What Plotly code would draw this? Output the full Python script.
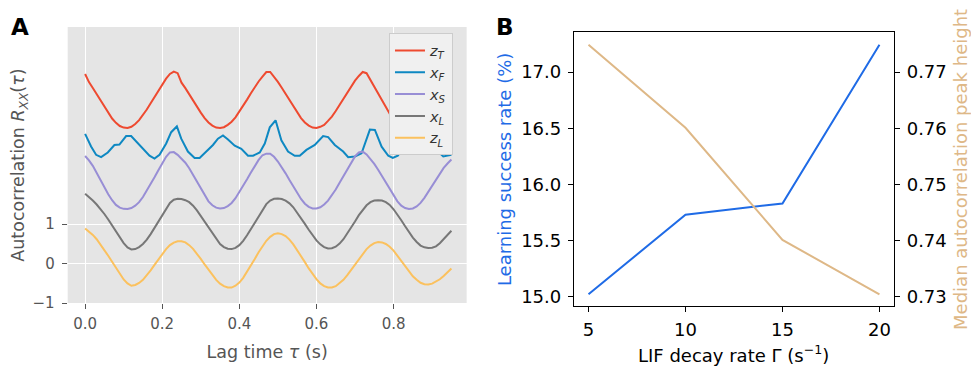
import plotly.graph_objects as go

# ---------------- Panel A data (autocorrelation, curves offset by 0..4) ----------------
lag = [round(k * 0.01, 2) for k in range(96)]  # lag time tau (s), 0 .. 0.95

z_T = [4.81, 4.605, 4.455, 4.30, 4.13, 3.97, 3.82, 3.68, 3.57, 3.49,
       3.45, 3.44, 3.47, 3.54, 3.64, 3.76, 3.91, 4.07, 4.23, 4.40,
       4.55, 4.69, 4.81, 4.87, 4.83, 4.59, 4.45, 4.29, 4.13, 3.97,
       3.83, 3.69, 3.58, 3.50, 3.45, 3.44, 3.46, 3.52, 3.60, 3.71,
       3.85, 4.00, 4.16, 4.32, 4.48, 4.62, 4.74, 4.86, 4.86, 4.74,
       4.61, 4.46, 4.31, 4.14, 3.98, 3.83, 3.69, 3.58, 3.50, 3.45,
       3.44, 3.47, 3.52, 3.62, 3.73, 3.87, 4.03, 4.19, 4.35, 4.50,
       4.64, 4.76, 4.86, 4.83, 4.66, 4.50, 4.33, 4.15, 3.97, 3.80,
       3.67, 3.57, 3.50, 3.46, 3.44, 3.45, 3.49, 3.56, 3.65, 3.77,
       3.91, 4.06, 4.22, 4.38, 4.53, 4.66]

lag_xF = [0.000, 0.0155, 0.0285, 0.0415, 0.0588, 0.076, 0.089, 0.1064, 0.1194, 0.1368,
          0.154, 0.167, 0.180, 0.193, 0.2103, 0.2233, 0.238, 0.2493, 0.2666, 0.284,
          0.297, 0.3142, 0.3316, 0.3445, 0.3576, 0.3706, 0.388, 0.4052, 0.4225, 0.4355,
          0.453, 0.466, 0.479, 0.494, 0.509, 0.5263, 0.5437, 0.5567, 0.574, 0.5957,
          0.6173, 0.6303, 0.6476, 0.6693, 0.6823, 0.6996, 0.717, 0.7386, 0.7516, 0.769,
          0.7863, 0.798, 0.811, 0.828, 0.845, 0.862, 0.879, 0.896, 0.912, 0.929, 0.95]
x_F = [3.29, 2.97, 2.76, 2.70, 2.82, 3.01, 3.02, 3.236, 3.236, 3.047,
       2.867, 2.737, 2.663, 2.76, 3.047, 3.334, 3.48, 3.17, 2.843, 2.678,
       2.678, 2.843, 3.01, 3.17, 3.25, 3.15, 2.99, 2.91, 2.737, 2.737,
       2.82, 3.047, 3.457, 3.636, 3.13, 2.843, 2.737, 2.737, 2.884, 3.01,
       3.236, 3.21, 3.01, 2.843, 2.70, 2.72, 2.80, 3.40, 3.39, 2.966,
       2.737, 2.68, 2.74, 2.97, 3.06, 3.10, 3.08, 3.02, 2.88, 2.72, 2.76]

x_S = [2.73, 2.62, 2.48, 2.30, 2.12, 1.93, 1.76, 1.61, 1.49, 1.42,
       1.39, 1.385, 1.41, 1.47, 1.56, 1.69, 1.85, 2.01, 2.19, 2.37,
       2.55, 2.71, 2.82, 2.83, 2.76, 2.67, 2.56, 2.42, 2.25, 2.07,
       1.89, 1.72, 1.58, 1.48, 1.42, 1.40, 1.41, 1.46, 1.54, 1.66,
       1.81, 1.97, 2.14, 2.31, 2.48, 2.63, 2.75, 2.79, 2.79, 2.71,
       2.59, 2.45, 2.29, 2.12, 1.95, 1.79, 1.64, 1.52, 1.44, 1.40,
       1.40, 1.43, 1.50, 1.60, 1.73, 1.88, 2.05, 2.22, 2.40, 2.57,
       2.72, 2.82, 2.84, 2.77, 2.66, 2.53, 2.38, 2.22, 2.05, 1.88,
       1.72, 1.58, 1.47, 1.41, 1.385, 1.40, 1.45, 1.54, 1.67, 1.82,
       1.98, 2.14, 2.29, 2.43, 2.54, 2.64]

x_L = [1.77, 1.69, 1.60, 1.50, 1.39, 1.26, 1.12, 0.97, 0.81, 0.66,
       0.52, 0.41, 0.36, 0.37, 0.42, 0.50, 0.61, 0.75, 0.91, 1.08,
       1.25, 1.41, 1.54, 1.62, 1.645, 1.64, 1.61, 1.56, 1.47, 1.35,
       1.21, 1.06, 0.91, 0.76, 0.62, 0.50, 0.42, 0.38, 0.37, 0.40,
       0.47, 0.58, 0.72, 0.88, 1.05, 1.22, 1.38, 1.51, 1.60, 1.645,
       1.655, 1.64, 1.60, 1.53, 1.43, 1.30, 1.16, 1.01, 0.86, 0.72,
       0.59, 0.49, 0.42, 0.385, 0.39, 0.43, 0.51, 0.62, 0.76, 0.91,
       1.07, 1.23, 1.37, 1.48, 1.56, 1.60, 1.61, 1.60, 1.56, 1.49,
       1.38, 1.25, 1.10, 0.95, 0.80, 0.66, 0.55, 0.46, 0.415, 0.40,
       0.405, 0.44, 0.52, 0.62, 0.73, 0.835]

z_L = [0.89, 0.82, 0.73, 0.62, 0.49, 0.35, 0.20, 0.05, -0.11, -0.26,
       -0.40, -0.50, -0.56, -0.54, -0.49, -0.41, -0.30, -0.17, -0.03, 0.11,
       0.25, 0.37, 0.47, 0.535, 0.57, 0.57, 0.54, 0.47, 0.375, 0.26,
       0.12, -0.02, -0.16, -0.29, -0.41, -0.505, -0.57, -0.605, -0.605, -0.56,
       -0.48, -0.36, -0.21, -0.05, 0.12, 0.29, 0.45, 0.58, 0.68, 0.75,
       0.77, 0.75, 0.70, 0.61, 0.49, 0.35, 0.20, 0.04, -0.12, -0.265,
       -0.39, -0.50, -0.57, -0.605, -0.605, -0.57, -0.50, -0.41, -0.29, -0.16,
       -0.02, 0.125, 0.26, 0.37, 0.46, 0.52, 0.55, 0.54, 0.50, 0.43,
       0.33, 0.205, 0.07, -0.07, -0.20, -0.32, -0.41, -0.485, -0.52, -0.53,
       -0.505, -0.46, -0.395, -0.31, -0.22, -0.12]

a_xticks = [0.0, 0.2, 0.4, 0.6, 0.8]
a_yticks = [-1, 0, 1]

# ---------------- Panel B data ----------------
decay_rate = [5, 10, 15, 20]
success_rate = [15.02, 15.73, 15.83, 17.245]
peak_height = [0.7749, 0.7601, 0.7401, 0.7304]
b_xticks = [5, 10, 15, 20]
b_left_ticks = [15.0, 15.5, 16.0, 16.5, 17.0]
b_right_ticks = [0.73, 0.74, 0.75, 0.76, 0.77]

# ---------------- Styles ----------------
FONT = "DejaVu Sans"
GG_GRAY = "#555555"
BLUE_B = "#1f6be6"
TAN_B = "#deb887"
B_SIZE = 18

series = [
    (lag, z_T, "<i>z</i><sub><i>T</i></sub>", "#EE4A30"),
    (lag_xF, x_F, "<i>x</i><sub><i>F</i></sub>", "#0E88C2"),
    (lag, x_S, "<i>x</i><sub><i>S</i></sub>", "#988ED5"),
    (lag, x_L, "<i>x</i><sub><i>L</i></sub>", "#777777"),
    (lag, z_L, "<i>z</i><sub><i>L</i></sub>", "#FBC15E"),
]

fig = go.Figure()
for xs, ys, name, col in series:
    fig.add_trace(go.Scatter(x=xs, y=ys, mode="lines", name=name,
                             line=dict(color=col, width=2),
                             xaxis="x", yaxis="y"))

fig.add_trace(go.Scatter(x=decay_rate, y=success_rate, mode="lines",
                         line=dict(color=BLUE_B, width=2), showlegend=False,
                         xaxis="x2", yaxis="y2"))
fig.add_trace(go.Scatter(x=decay_rate, y=peak_height, mode="lines",
                         line=dict(color=TAN_B, width=2), showlegend=False,
                         xaxis="x2", yaxis="y3"))

fig.update_layout(
    width=971, height=369,
    margin=dict(l=0, r=0, t=0, b=0),
    paper_bgcolor="white", plot_bgcolor="white",
    font=dict(family=FONT, size=14, color="black"),
    xaxis=dict(domain=[0.0697, 0.4806], range=[-0.0452, 0.9896],
               tickvals=a_xticks, ticktext=[f"{v:.1f}" for v in a_xticks],
               showgrid=True, gridcolor="white", gridwidth=1.2, zeroline=False,
               ticks="outside", ticklen=5, tickcolor=GG_GRAY, tickwidth=1,
               ticklabelstandoff=2,
               tickfont=dict(size=15, color=GG_GRAY),
               title=dict(text="Lag time <i>τ</i> (s)", standoff=13,
                          font=dict(size=17.5, color=GG_GRAY)),
               anchor="y"),
    yaxis=dict(domain=[0.1580, 0.9249], range=[-1, 6],
               tickvals=a_yticks, ticktext=["−1", "0", "1"],
               showgrid=True, gridcolor="white", gridwidth=1.2, zeroline=False,
               ticks="outside", ticklen=5, tickcolor=GG_GRAY, tickwidth=1,
               ticklabelstandoff=4,
               tickfont=dict(size=15, color=GG_GRAY),
               title=dict(text="Autocorrelation <i>R</i><sub><i>XX</i></sub>(<i>τ</i>)",
                          standoff=3, font=dict(size=17.5, color=GG_GRAY)),
               anchor="x"),
    xaxis2=dict(domain=[0.5911, 0.9207], range=[4.25, 20.75],
                tickvals=b_xticks, ticktext=[str(v) for v in b_xticks],
                showgrid=False, zeroline=False, showline=True, linecolor="black",
                linewidth=1.2, mirror=True,
                ticks="outside", ticklen=5, tickcolor="black",
                ticklabelstandoff=2,
                tickfont=dict(size=B_SIZE, color="black"),
                anchor="y2"),
    yaxis2=dict(domain=[0.1491, 0.9098], range=[14.913, 17.354],
                tickvals=b_left_ticks, ticktext=[f"{v:.1f}" for v in b_left_ticks],
                showgrid=False, zeroline=False, showline=True, linecolor="black",
                linewidth=1.2,
                ticks="outside", ticklen=5, tickcolor="black",
                ticklabelstandoff=3,
                tickfont=dict(size=B_SIZE, color="black"),
                title=dict(text="Learning success rate (%)", standoff=4,
                           font=dict(size=B_SIZE, color=BLUE_B)),
                anchor="x2"),
    yaxis3=dict(range=[0.72826, 0.77708], overlaying="y2", side="right",
                tickvals=b_right_ticks, ticktext=[f"{v:.2f}" for v in b_right_ticks],
                showgrid=False, zeroline=False, showline=True, linecolor="black",
                linewidth=1.2,
                ticks="outside", ticklen=5, tickcolor="black",
                ticklabelstandoff=3,
                tickfont=dict(size=B_SIZE, color="black"),
                title=dict(text="Median autocorrelation peak height", standoff=8,
                           font=dict(size=B_SIZE, color=TAN_B)),
                anchor="x2"),
    legend=dict(x=0.4006, y=0.907, xanchor="left", yanchor="top",
                bgcolor="#F0F0F0", bordercolor="#CCCCCC", borderwidth=1,
                font=dict(size=14.5, color="#333333"), tracegroupgap=0),
    shapes=[dict(type="rect", xref="x domain", yref="y domain",
                 x0=0, x1=1, y0=0, y1=1, fillcolor="#E5E5E5",
                 line=dict(width=0), layer="below")],
    annotations=[
        dict(text="<b>A</b>", x=9 / 971, y=1 - 12 / 369, xref="paper", yref="paper",
             xanchor="left", yanchor="top", showarrow=False,
             font=dict(size=23, color="black")),
        dict(text="<b>B</b>", x=494 / 971, y=1 - 12 / 369, xref="paper", yref="paper",
             xanchor="left", yanchor="top", showarrow=False,
             font=dict(size=23, color="black")),
        # x-axis title of panel B (partly cut off at the bottom edge, as in the original)
        dict(text="LIF decay rate Γ (s<sup>−1</sup>)", x=0.5, y=1 - 363 / 369,
             xref="x2 domain", yref="paper", xanchor="center", yanchor="middle",
             showarrow=False, font=dict(size=B_SIZE, color="black")),
    ],
)

fig.write_html("out.html")
